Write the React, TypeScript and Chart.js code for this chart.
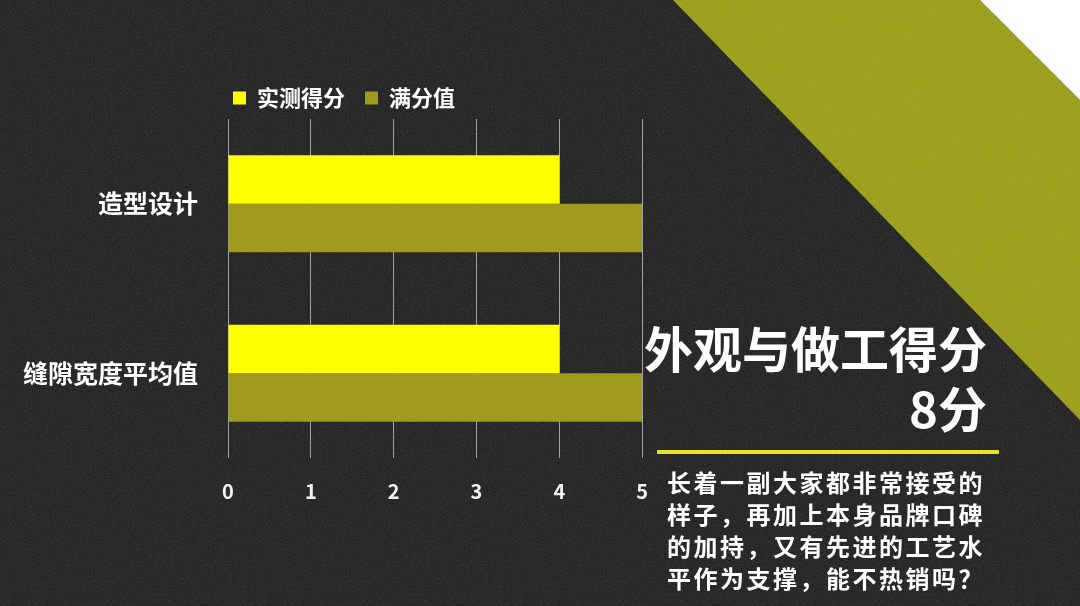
import React, { useEffect, useRef } from "react";
import { Chart, registerables } from "chart.js";

Chart.register(...registerables);

const categories = ["造型设计", "缝隙宽度平均值"];
const seriesNames = ["实测得分", "满分值"];
const measuredScores = [4, 4];
const fullScores = [5, 5];
const xMin = 0;
const xMax = 5;
const xStep = 1;
const titleLines = ["外观与做工得分", "8分"];
const bodyLines = [
  "长着一副大家都非常接受的",
  "样子，再加上本身品牌口碑",
  "的加持，又有先进的工艺水",
  "平作为支撑，能不热销吗？",
];

const FONT = "'Noto Sans CJK SC', 'Noto Sans', sans-serif";
const YELLOW = "#ffff00";
const OLIVE_BAR = "#9e9b1f";
const OLIVE_BAND = "#9a9e0e";

const noiseUrl =
  "url(\"data:image/svg+xml;utf8,<svg xmlns='http://www.w3.org/2000/svg' width='256' height='256'><filter id='n'><feTurbulence type='fractalNoise' baseFrequency='0.95' numOctaves='2' stitchTiles='stitch'/><feColorMatrix type='saturate' values='0'/></filter><rect width='100%' height='100%' filter='url(%23n)' opacity='0.2'/></svg>\")";

const legendShift = {
  id: "legendShift",
  afterLayout(chart: any) {
    if (chart.legend) {
      chart.legend.left -= 15;
      chart.legend.right -= 15;
    }
  },
};

export default function App() {
  const canvasRef = useRef<HTMLCanvasElement | null>(null);

  useEffect(() => {
    if (!canvasRef.current) return;
    const chart = new Chart(canvasRef.current, {
      type: "bar",
      data: {
        labels: categories,
        datasets: [
          {
            label: seriesNames[0],
            data: measuredScores,
            backgroundColor: YELLOW,
            borderWidth: 0,
            categoryPercentage: 0.5714,
            barPercentage: 1.0,
          },
          {
            label: seriesNames[1],
            data: fullScores,
            backgroundColor: OLIVE_BAR,
            borderWidth: 0,
            categoryPercentage: 0.5714,
            barPercentage: 1.0,
          },
        ],
      },
      options: {
        indexAxis: "y",
        animation: false,
        responsive: true,
        maintainAspectRatio: false,
        layout: { padding: { top: 67, right: 0, bottom: 19, left: 0 } },
        plugins: {
          legend: {
            display: true,
            position: "top",
            align: "start",
            fullSize: false,
            labels: {
              color: "#ffffff",
              boxWidth: 13,
              boxHeight: 13,
              padding: 20,
              font: { family: FONT, size: 22, weight: "bold" },
            },
          },
          tooltip: { enabled: false },
        },
        scales: {
          x: {
            type: "linear",
            min: xMin,
            max: xMax,
            border: { display: false },
            grid: {
              display: true,
              color: "rgba(205,205,205,0.75)",
              lineWidth: 1,
              drawTicks: false,
            },
            ticks: {
              stepSize: xStep,
              color: "#f2f2f2",
              padding: 21,
              font: { family: FONT, size: 20, weight: "bold" },
            },
          },
          y: {
            border: { display: false },
            grid: { display: false, drawTicks: false },
            ticks: {
              color: "#ffffff",
              padding: 30,
              font: { family: FONT, size: 25, weight: "bold" },
            },
            afterFit(scale: any) {
              scale.width = 228;
            },
          },
        },
      },
      plugins: [legendShift],
    });
    return () => chart.destroy();
  }, []);

  return (
    <div
      style={{
        position: "fixed",
        left: 0,
        top: 0,
        width: 1080,
        height: 606,
        overflow: "hidden",
        background: "#191919",
        fontFamily: FONT,
      }}
    >
      <svg
        width={1080}
        height={606}
        style={{ position: "absolute", left: 0, top: 0 }}
      >
        <polygon points="673,0 980,0 1080,100 1080,420" fill={OLIVE_BAND} />
      </svg>
      <div
        style={{
          position: "absolute",
          left: 0,
          top: 0,
          width: 1080,
          height: 606,
          backgroundImage: noiseUrl,
          backgroundRepeat: "repeat",
          pointerEvents: "none",
        }}
      />
      <svg
        width={1080}
        height={606}
        style={{ position: "absolute", left: 0, top: 0 }}
      >
        <polygon points="980,0 1080,0 1080,100" fill="#ffffff" />
      </svg>
      <div
        style={{
          position: "absolute",
          left: 0,
          top: 0,
          width: 669,
          height: 543,
        }}
      >
        <canvas ref={canvasRef} />
      </div>
      <div
        style={{
          position: "absolute",
          right: 93,
          top: 317,
          textAlign: "right",
          color: "#ffffff",
          fontSize: 49,
          fontWeight: 700,
          lineHeight: "60px",
          whiteSpace: "nowrap",
        }}
      >
        {titleLines.map((t, i) => (
          <div key={i}>{t}</div>
        ))}
      </div>
      <div
        style={{
          position: "absolute",
          left: 657,
          top: 450,
          width: 342,
          height: 4,
          background: "#e9e22c",
        }}
      />
      <div
        style={{
          position: "absolute",
          left: 667,
          top: 466,
          color: "#ffffff",
          fontSize: 24,
          fontWeight: 700,
          lineHeight: "32px",
          letterSpacing: "2.5px",
          whiteSpace: "nowrap",
        }}
      >
        {bodyLines.map((t, i) => (
          <div key={i}>{t}</div>
        ))}
      </div>
    </div>
  );
}
